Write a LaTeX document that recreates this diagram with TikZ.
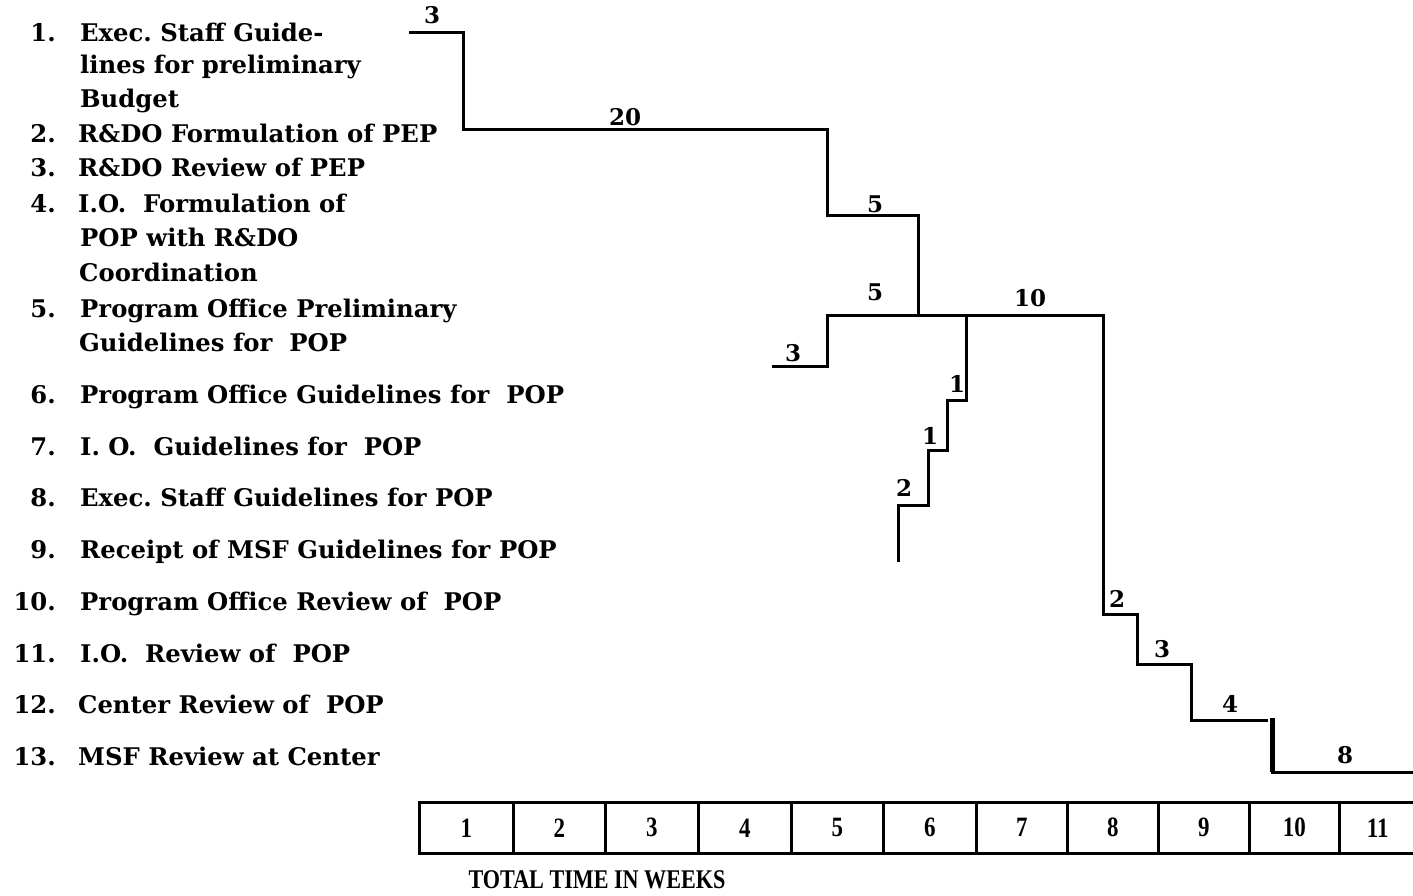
\documentclass[tikz,border=0pt]{standalone}
\usepackage{fontspec}
\setmainfont{DejaVu Serif}
\newfontfamily\scalefont{Liberation Serif}
\newcommand{\narrow}[1]{\scalebox{0.82}[1]{#1}}
\begin{document}
\begin{tikzpicture}[x=1pt,y=-1pt,
  every node/.style={font=\fontsize{24.3}{28}\selectfont\bfseries, inner sep=0pt},
  item/.style={anchor=base west},
  num/.style={anchor=base east},
  dur/.style={font=\fontsize{23}{26}\selectfont\bfseries, anchor=base},
  bar/.style={line width=3pt, line cap=rect, line join=miter},
  week/.style={draw, line width=2.6pt, minimum height=51pt, anchor=north west, font=\scalefont\fontsize{28}{30}\selectfont\bfseries}]
\useasboundingbox (0,0) rectangle (1413,896);

% activity list (positions are baselines)
\foreach \n/\y in {1/42, 2/143, 3/177, 4/213, 5/317, 6/403, 7/455, 8/506, 9/558, 10/610, 11/662, 12/713, 13/765}
  \node[num] (n\n) at (56,\y) {\n.};
\node[item] (t1a) at (80,42) {Exec.\ Staff Guide-};
\node[item] (t1b) at (80,74) {lines for preliminary};
\node[item] (t1c) at (80,108) {Budget};
\node[item] (t2) at (78,143) {R\&DO Formulation of PEP};
\node[item] (t3) at (78,177) {R\&DO Review of PEP};
\node[item] (t4a) at (78,213) {I.O.\ \ Formulation of};
\node[item] (t4b) at (80,247) {POP with R\&DO};
\node[item] (t4c) at (79,281) {Coordination};
\node[item] (t5a) at (80,317) {Program Office Preliminary};
\node[item] (t5b) at (79,351) {Guidelines for\ \ POP};
\node[item] (t6) at (80,403) {Program Office Guidelines for\ \ POP};
\node[item] (t7) at (80,455) {I.\ O.\ \ Guidelines for\ \ POP};
\node[item] (t8) at (80,506) {Exec.\ Staff Guidelines for POP};
\node[item] (t9) at (80,558) {Receipt of MSF Guidelines for POP};
\node[item] (t10) at (80,610) {Program Office Review of\ \ POP};
\node[item] (t11) at (80,662) {I.O.\ \ Review of\ \ POP};
\node[item] (t12) at (78,713) {Center Review of\ \ POP};
\node[item] (t13) at (78,765) {MSF Review at Center};

% corners of the main chain
\coordinate (a0) at (410,33);
\coordinate (a1) at (463,33);
\coordinate (a2) at (463,130);
\coordinate (a3) at (827,130);
\coordinate (a4) at (827,216);
\coordinate (a5) at (918,216);
\coordinate (a6) at (918,315);
\coordinate (b0) at (773,366);
\coordinate (b1) at (827,366);
\coordinate (b2) at (827,315);
\coordinate (c0) at (1103,315);
\coordinate (c1) at (1103,614);
\coordinate (c2) at (1137,614);
\coordinate (c3) at (1137,664);
\coordinate (c4) at (1191,664);
\coordinate (c5) at (1191,720);
\coordinate (c6) at (1266,720);
\coordinate (c7) at (1272,718);
\coordinate (c8) at (1272,772);
\coordinate (c9) at (1413,772);
\coordinate (d0) at (966,315);
\coordinate (d1) at (966,400);
\coordinate (d2) at (947,400);
\coordinate (d3) at (947,450);
\coordinate (d4) at (928,450);
\coordinate (d5) at (928,505);
\coordinate (d6) at (898,505);
\coordinate (d7) at (898,560);

\draw[bar] (a0) -- (a1) -- (a2) -- (a3) -- (a4) -- (a5) -- (a6);
\draw[bar] (b0) -- (b1) -- (b2) -- (c0);
\draw[bar] (c0) -- (c1) -- (c2) -- (c3) -- (c4) -- (c5) -- (c6);
\draw[line width=5pt] (c7) -- (c8);
\draw[bar] (c8) -- (c9);
\draw[bar] (d0) -- (d1) -- (d2) -- (d3) -- (d4) -- (d5) -- (d6) -- (d7);

% durations (baselines)
\node[dur] (l1) at (432,24) {3};
\node[dur] (l2) at (625,126) {20};
\node[dur] (l3) at (875,212) {5};
\node[dur] (l4) at (875,300) {5};
\node[dur] (l5) at (1030,306) {10};
\node[dur] (l6) at (793,361) {3};
\node[dur] (l7) at (957,392) {1};
\node[dur] (l8) at (930,444) {1};
\node[dur] (l9) at (904,496) {2};
\node[dur] (l10) at (1117,607) {2};
\node[dur] (l11) at (1162,657) {3};
\node[dur] (l12) at (1230,712) {4};
\node[dur] (l13) at (1345,763) {8};

% time scale
\foreach \i/\x/\w in {1/418/94, 2/512/92, 3/604/93, 4/697/93, 5/790/92, 6/882/93, 7/975/91, 8/1066/91, 9/1157/91, 10/1248/90, 11/1338/77}
  \node[week, minimum width=\w pt] (w\i) at (\x,801) {\narrow{\i}};
\node[font=\scalefont\fontsize{27}{30}\selectfont\bfseries] (tt) at (597,880) {\narrow{TOTAL TIME IN WEEKS}};
\end{tikzpicture}
\end{document}
